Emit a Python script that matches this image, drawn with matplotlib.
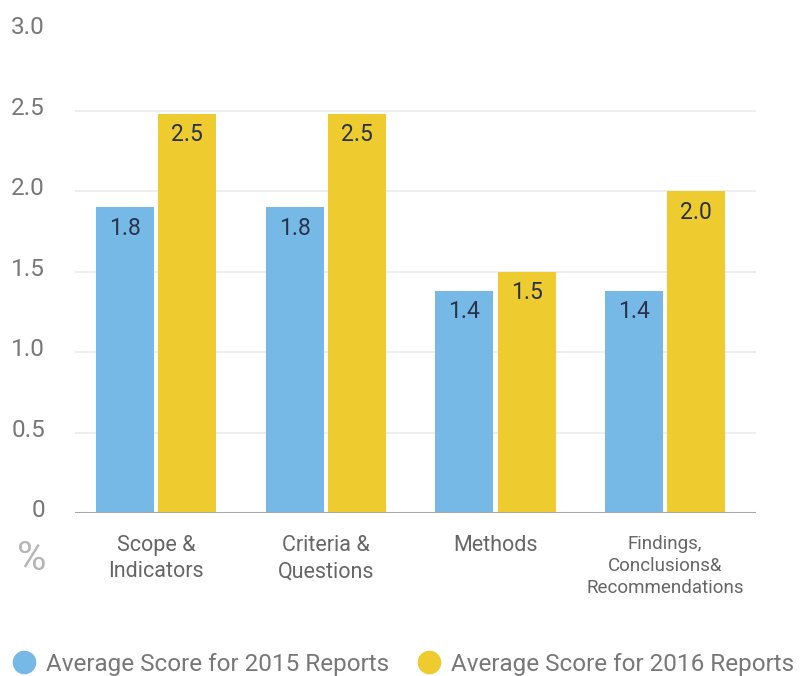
import numpy as np
import matplotlib.pyplot as plt
from matplotlib.lines import Line2D
from matplotlib.transforms import ScaledTranslation

plt.rcParams['font.family'] = ['Roboto', 'DejaVu Sans']

categories = ['Scope &\nIndicators', 'Criteria &\nQuestions', 'Methods',
              'Findings,\nConclusions&\nRecommendations']
scores_2015 = [1.9, 1.9, 1.38, 1.38]
scores_2016 = [2.48, 2.48, 1.5, 2.0]
labels_2015 = ['1.8', '1.8', '1.4', '1.4']
labels_2016 = ['2.5', '2.5', '1.5', '2.0']
yticks = [0, 0.5, 1.0, 1.5, 2.0, 2.5, 3.0]
ytick_labels = ['0', '0.5', '1.0', '1.5', '2.0', '2.5', '3.0']
series_names = ['Average Score for 2015 Reports', 'Average Score for 2016 Reports']

BLUE = '#77b9e6'
YELLOW = '#eecb2f'

fig = plt.figure(figsize=(8.05, 6.76), dpi=100)
ax = fig.add_axes([0.0932, 0.2411, 0.846, 0.7145])

x = np.arange(len(categories))
w = 0.342
off = 0.184
b1 = ax.bar(x - off, scores_2015, w, color=BLUE, zorder=2)
b2 = ax.bar(x + off, scores_2016, w, color=YELLOW, zorder=2)

# value labels just inside the top of each bar
for bars, labs in ((b1, labels_2015), (b2, labels_2016)):
    for rect, lab in zip(bars, labs):
        ax.annotate(lab, (rect.get_x() + rect.get_width() / 2, rect.get_height()),
                    xytext=(0, -21), textcoords='offset pixels',
                    ha='center', va='center', fontsize=16.5, color='#28324a',
                    zorder=3)

ax.set_xlim(-0.478, 3.537)
ax.set_ylim(0, 3.0)

# light gridlines (none at the top)
for yv in yticks[1:-1]:
    ax.axhline(yv, color='#ebebeb', linewidth=1.2, zorder=1)
ax.axhline(0, color='#a8a8a8', linewidth=2.2, zorder=3)

for s in ax.spines.values():
    s.set_visible(False)

ax.set_yticks(yticks)
ax.set_yticklabels(ytick_labels, fontsize=17.5, color='#777777')
ax.tick_params(axis='y', length=0, pad=21.6)
for t in ax.get_yticklabels():
    t.set_transform(t.get_transform() + ScaledTranslation(0, 5 / 100, fig.dpi_scale_trans))

ax.set_xticks(x)
ax.set_xticklabels([])
ax.tick_params(axis='x', length=0)
for i, cat in enumerate(categories):
    small = cat.count('\n') > 1
    ax.annotate(cat, (x[i], 0), xytext=(0, -22),
                textcoords='offset pixels', ha='center', va='top',
                fontsize=13.5 if small else 15.5, color='#666666',
                linespacing=1.27 if small else 1.33)

fig.text(32 / 805, 1 - 559 / 676, '%', fontsize=29, color='#b5b5b5',
         ha='center', va='center')

handles = [Line2D([], [], marker='o', linestyle='', markersize=16, color=c)
           for c in (BLUE, YELLOW)]
fig.legend(handles, series_names, loc='center left', ncol=2, frameon=False,
           bbox_to_anchor=(0.0, 1 - 664 / 676), labelcolor='#777777',
           handletextpad=0.3, columnspacing=1.05, borderaxespad=0,
           handlelength=1.2, prop={'size': 17.5})

fig.savefig('out.png', dpi=100)
